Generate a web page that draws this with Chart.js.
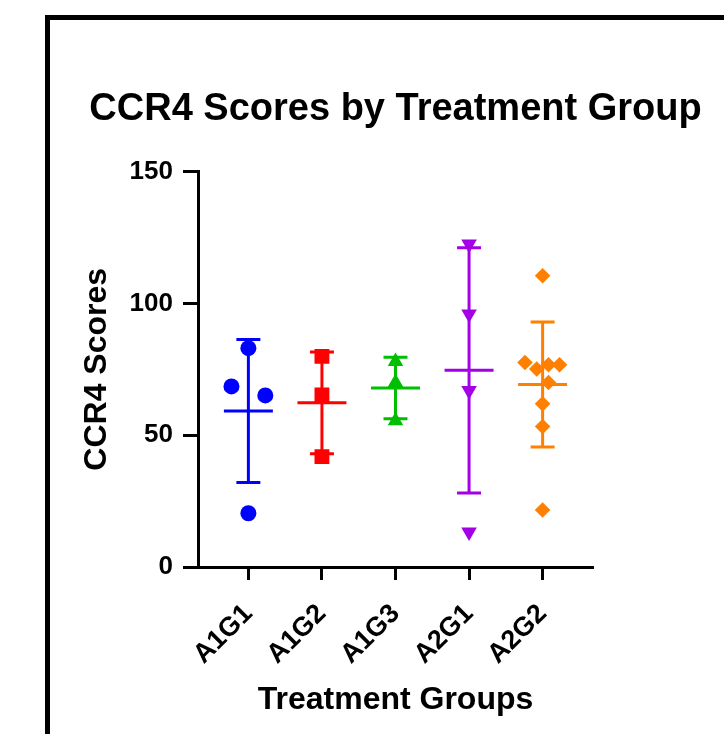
<!DOCTYPE html>
<html>
<head>
<meta charset="utf-8">
<script src="https://cdn.jsdelivr.net/npm/chart.js@4"></script>
<style>
  body { margin: 0; background: #fff; overflow: hidden; }
  #frame { position: absolute; left: 45px; top: 15px; width: 900px; height: 900px; border-left: 5px solid #000; border-top: 5px solid #000; }
  #ccrChart { position: absolute; left: 0; top: 0; }
</style>
</head>
<body>
<div id="frame"></div>
<canvas id="ccrChart" width="724" height="734"></canvas>
<script>
// groups on the x axis
const groups = ['A1G1', 'A1G2', 'A1G3', 'A2G1', 'A2G2'];
const groupColors = ['#0000FF', '#FF0000', '#00BF00', '#A400E8', '#FF8000'];
const groupShapes = ['circle', 'rect', 'triangle', 'triangle', 'rectRot'];

// individual scores
const a1g1 = [83.0, 68.5, 65.1, 20.4];
const a1g2 = [79.9, 65.3, 41.9];
const a1g3 = [78.0, 70.0, 55.5];
const a2g1 = [122.5, 96.0, 67.0, 13.3];
const a2g2 = [110.5, 77.6, 75.1, 76.7, 76.7, 70.0, 61.9, 53.3, 21.6];
// horizontal spread of the points (in category units)
const a1g1Spread = [0, -0.23, 0.23, 0];
const a2g2Spread = [0, -0.24, -0.08, 0.08, 0.23, 0.08, 0, 0, 0];

// mean and SD per group
const means = [59.2, 62.3, 67.9, 74.6, 69.2];
const sds = [27.1, 19.3, 11.7, 46.5, 23.7];

const yTicks = [0, 50, 100, 150];

const scores = [a1g1, a1g2, a1g3, a2g1, a2g2];
const spreads = [a1g1Spread, null, null, null, a2g2Spread];
const FONT = 'Liberation Sans, Arial, sans-serif';

/** point datasets */
const pointSets = scores.map(function (vals, i) {
  return {
    type: 'scatter',
    label: groups[i],
    data: vals.map(function (v, k) {
      return { x: i + (spreads[i] ? spreads[i][k] : 0), y: v };
    }),
    backgroundColor: groupColors[i],
    borderColor: groupColors[i],
    pointStyle: groupShapes[i],
    pointRotation: i === 3 ? 180 : 0,
    pointRadius: [8, 10.5, 9, 9, 7.8][i],
    pointBorderWidth: 0,
    order: 0
  };
});

/** mean line + SD whiskers per group */
const barSets = means.map(function (m, i) {
  const hi = m + sds[i], lo = m - sds[i];
  return {
    type: 'scatter',
    showLine: true,
    spanGaps: false,
    label: groups[i] + ' mean',
    data: [
      { x: i - 0.163, y: hi }, { x: i + 0.163, y: hi }, { x: i, y: null },
      { x: i, y: hi }, { x: i, y: lo }, { x: i, y: null },
      { x: i - 0.163, y: lo }, { x: i + 0.163, y: lo }, { x: i, y: null },
      { x: i - 0.333, y: m }, { x: i + 0.333, y: m }
    ],
    borderColor: groupColors[i],
    borderWidth: 3,
    borderCapStyle: 'butt',
    pointRadius: 0,
    order: 1
  };
});

const ctx = document.getElementById('ccrChart').getContext('2d');
new Chart(ctx, {
  type: 'scatter',
  data: { datasets: pointSets.concat(barSets) },
  options: {
    responsive: false,
    animation: false,
    devicePixelRatio: 1,
    layout: { padding: { left: 67, right: 0, top: 0, bottom: 0 } },
    plugins: {
      legend: { display: false },
      tooltip: { enabled: false },
      title: {
        display: true,
        text: 'CCR4 Scores by Treatment Group',
        color: '#000',
        font: { family: FONT, size: 38, weight: 'bold' },
        padding: { top: 87, bottom: 39 }
      }
    },
    scales: {
      x: {
        type: 'linear',
        min: -0.685,
        max: 4.685,
        afterBuildTicks: function (scale) {
          scale.ticks = groups.map(function (g, i) { return { value: i }; });
        },
        afterFit: function (scale) { scale.height = 167; },
        ticks: {
          autoSkip: false,
          minRotation: 45,
          maxRotation: 45,
          padding: 18,
          color: '#000',
          font: { family: FONT, size: 27, weight: 'bold' },
          callback: function (v) { return groups[v]; }
        },
        grid: { drawOnChartArea: false, drawTicks: true, tickLength: 13, tickWidth: 3, tickColor: '#000' },
        border: { display: true, color: '#000', width: 3 },
        title: {
          display: true,
          text: 'Treatment Groups',
          color: '#000',
          font: { family: FONT, size: 32, weight: 'bold' },
          padding: { top: 0, bottom: 15 }
        }
      },
      y: {
        min: 0,
        max: 150,
        afterBuildTicks: function (scale) {
          scale.ticks = yTicks.map(function (v) { return { value: v }; });
        },
        afterFit: function (scale) { scale.width = 131; },
        ticks: {
          padding: 10,
          color: '#000',
          font: { family: FONT, size: 26, weight: 'bold' }
        },
        grid: { drawOnChartArea: false, drawTicks: true, tickLength: 15, tickWidth: 3, tickColor: '#000' },
        border: { display: true, color: '#000', width: 3 },
        title: {
          display: true,
          text: 'CCR4 Scores',
          color: '#000',
          font: { family: FONT, size: 32, weight: 'bold' },
          padding: { top: 11, bottom: 0 }
        }
      },
      // empty right-hand margin so the plot ends where the reference does
      yRight: {
        position: 'right',
        display: true,
        afterFit: function (scale) { scale.width = 131; },
        ticks: { display: false },
        grid: { display: false },
        border: { display: false }
      }
    }
  }
});
</script>
</body>
</html>
